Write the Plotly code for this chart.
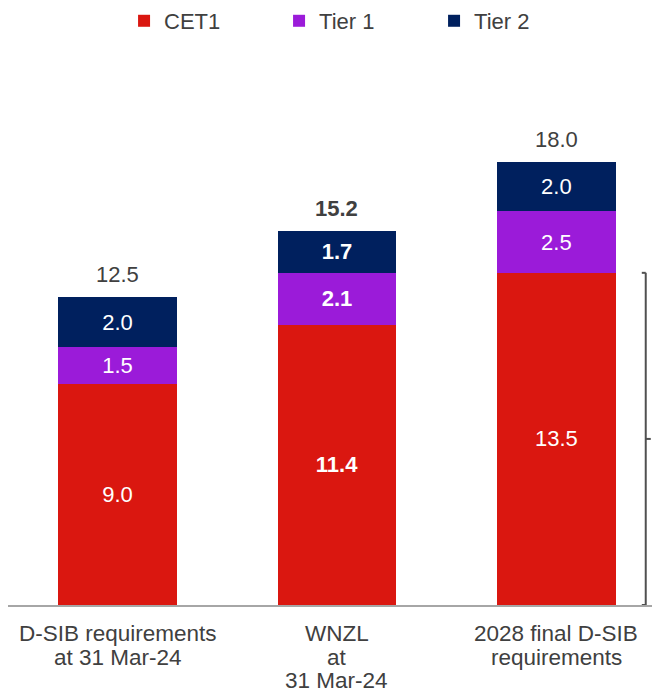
import plotly.graph_objects as go

categories = ["D-SIB requirements<br>at 31 Mar-24", "WNZL<br>at<br>31 Mar-24",
              "2028 final D-SIB<br>requirements"]
cet1 = [9.0, 11.4, 13.5]
tier1 = [1.5, 2.1, 2.5]
tier2 = [2.0, 1.7, 2.0]
totals = [12.5, 15.2, 18.0]
bold = [False, True, False]

colors = {"CET1": "#DA1710", "Tier 1": "#9B1BD9", "Tier 2": "#00205E"}
font = "Liberation Sans, Arial, sans-serif"
grey = "#404040"


def fmt(v, b):
    s = f"{v:.1f}"
    return f"<b>{s}</b>" if b else s


fig = go.Figure()
for name, vals in [("CET1", cet1), ("Tier 1", tier1), ("Tier 2", tier2)]:
    fig.add_trace(go.Bar(
        x=categories, y=vals, name=name,
        marker=dict(color=colors[name], line=dict(width=0)),
        text=[fmt(v, b) for v, b in zip(vals, bold)],
        texttemplate="%{text}", textposition="inside",
        insidetextanchor="middle",
        textfont=dict(color="white", size=22, family=font),
        hoverinfo="skip",
    ))

for c, t, b in zip(categories, totals, bold):
    fig.add_annotation(x=c, y=t, text=fmt(t, b), showarrow=False,
                       yanchor="bottom", yshift=8,
                       font=dict(size=22, color=grey, family=font))

# category labels, one annotation per line for tighter line spacing
for c in categories:
    for i, part in enumerate(c.split("<br>")):
        fig.add_annotation(x=c, y=0, text=part, showarrow=False,
                           yanchor="middle", yshift=-28.5 - 23.5 * i,
                           font=dict(size=22.5, color=grey, family=font))

# bracket on the right of the 2028 CET1 bar
bx = 2.407
top = cet1[2]
line = dict(color="#505050", width=2)
fig.add_shape(type="line", x0=bx, x1=bx, y0=0, y1=top, xref="x", yref="y", line=line)
fig.add_shape(type="line", x0=bx - 0.018, x1=bx, y0=top, y1=top, xref="x", yref="y", line=line)
fig.add_shape(type="line", x0=bx - 0.018, x1=bx, y0=0, y1=0, xref="x", yref="y", line=line)
fig.add_shape(type="line", x0=bx, x1=bx + 0.023, y0=top / 2, y1=top / 2, xref="x", yref="y", line=line)

fig.update_layout(
    width=652, height=686,
    margin=dict(l=0, r=0, t=52, b=89, autoexpand=False),
    barmode="stack", bargap=0.46,
    plot_bgcolor="white", paper_bgcolor="white",
    font=dict(family=font, color=grey, size=22),
    showlegend=True,
    legend=dict(orientation="h", x=0.178, xanchor="left", y=1.0716, yanchor="middle",
                font=dict(size=22, color=grey, family=font),
                entrywidth=110, entrywidthmode="pixels", itemwidth=30,
                traceorder="normal"),
    xaxis=dict(range=[-0.499, 2.472], showline=True, linecolor="#A6A6A6", linewidth=2,
               ticks="", showticklabels=False, showgrid=False, fixedrange=True),
    yaxis=dict(range=[0, 22.15], visible=False, showgrid=False, fixedrange=True),
)

fig.write_html("out.html")
